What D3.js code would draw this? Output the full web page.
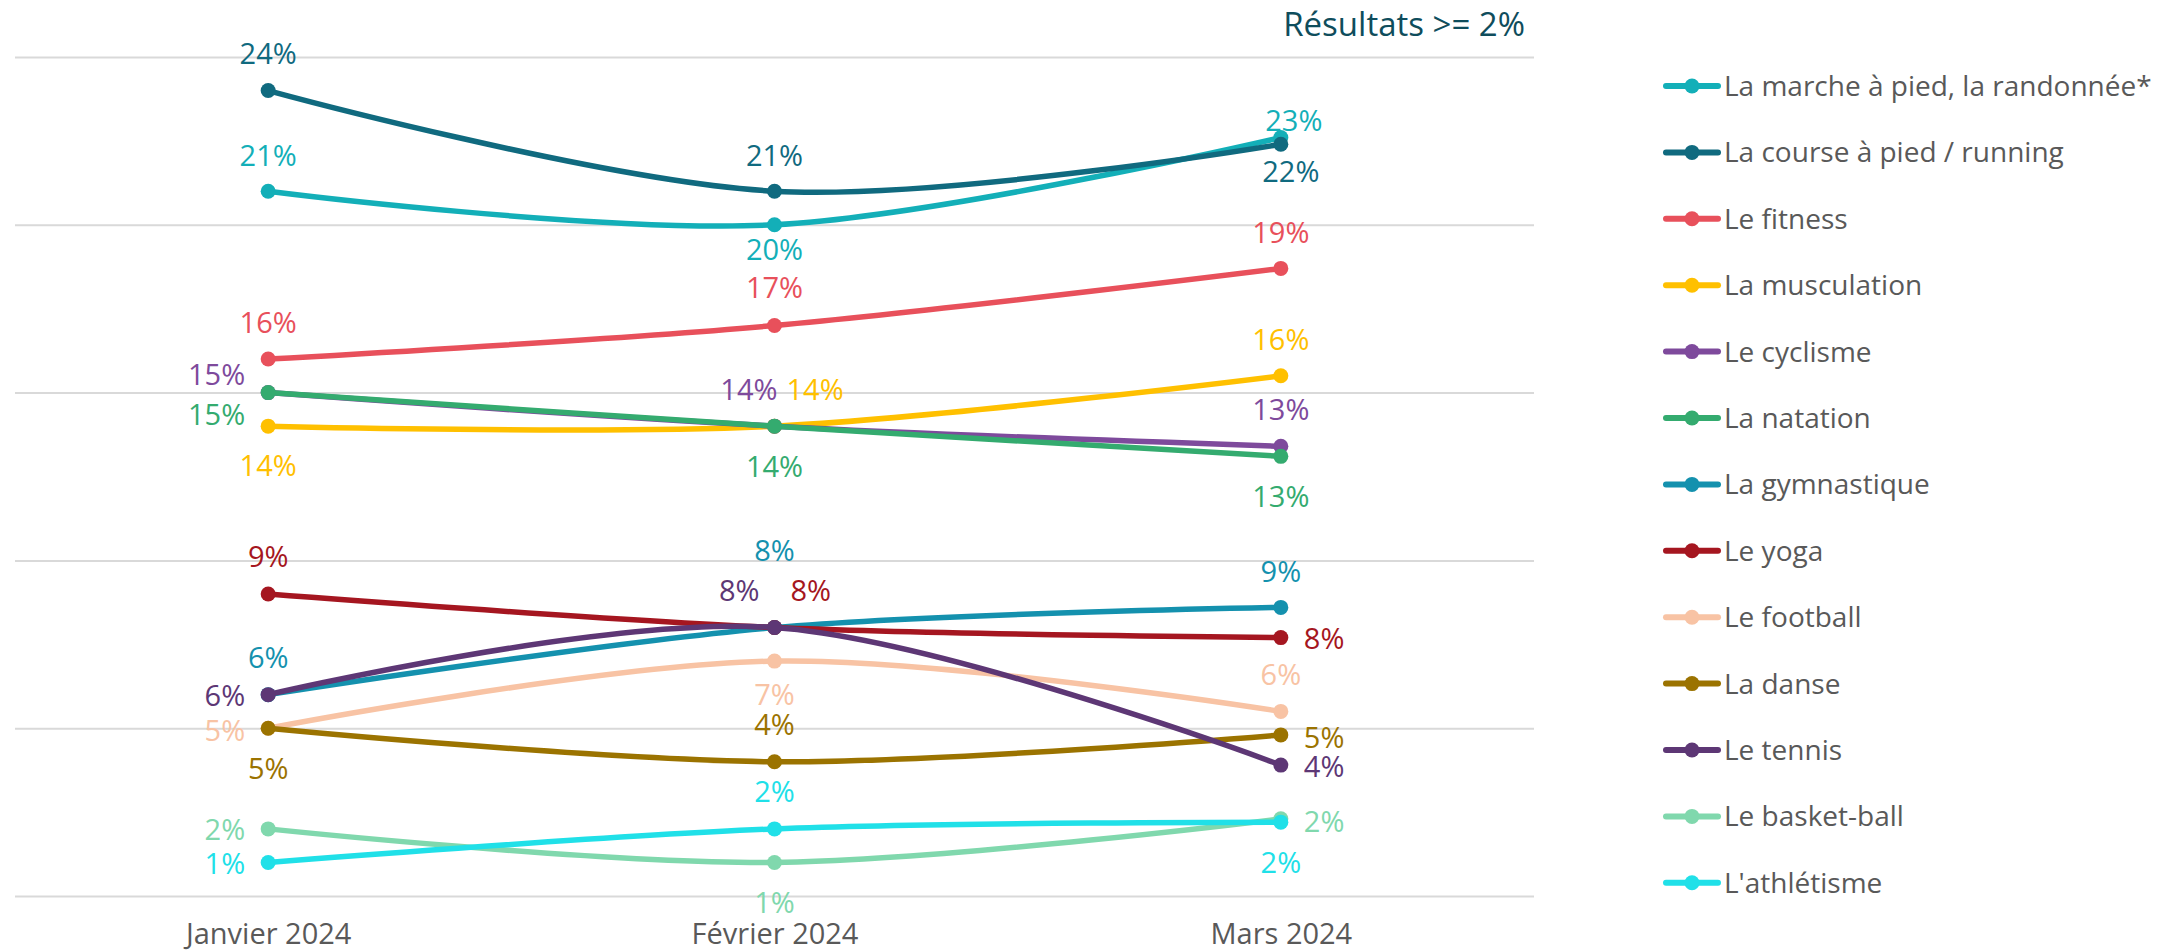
<!doctype html>
<html>
<head>
<meta charset="utf-8">
<script src="https://cdn.jsdelivr.net/npm/d3@7"></script>
<style>
  body { margin: 0; background: #fff; }
  svg { display: block; font-family: "Open Sans", sans-serif; }
</style>
</head>
<body>
<div id="chart"></div>
<script>
// x categories
var months = ["Janvier 2024", "Février 2024", "Mars 2024"];

// series names (legend order = draw order)
var sports = [
  "La marche à pied, la randonnée*",
  "La course à pied / running",
  "Le fitness",
  "La musculation",
  "Le cyclisme",
  "La natation",
  "La gymnastique",
  "Le yoga",
  "Le football",
  "La danse",
  "Le tennis",
  "Le basket-ball",
  "L'athlétisme"
];

// values in %, one per month
var marche      = [21, 20, 22.6];
var course      = [24, 21, 22.4];
var fitness     = [16, 17, 18.7];
var musculation = [14, 14, 15.5];
var cyclisme    = [15, 14, 13.4];
var natation    = [15, 14, 13.1];
var gymnastique = [6, 8, 8.6];
var yoga        = [9, 8, 7.7];
var football    = [5, 7, 5.5];
var danse       = [5, 4, 4.8];
var tennis      = [6, 8, 3.9];
var basket      = [2, 1, 2.3];
var athletisme  = [1, 2, 2.2];

var yTicks = [0, 5, 10, 15, 20, 25];

var seriesValues = [marche, course, fitness, musculation, cyclisme, natation,
  gymnastique, yoga, football, danse, tennis, basket, athletisme];

var colors = ["#13afb8", "#106a7f", "#e8505b", "#ffc000", "#7e4a9c", "#34ab6f",
  "#1491ae", "#a51620", "#f8c3a4", "#9b7300", "#5d3775", "#80d8ad", "#20e0e8"];

// where each value label sits relative to its point: [anchor, dx, dy]
var labelPlace = [
  [["middle", 0, -36], ["middle", 0, 25], ["middle", 13, -17]],
  [["middle", 0, -37], ["middle", 0, -36], ["middle", 10, 27]],
  [["middle", 0, -36], ["middle", 0, -38], ["middle", 0, -36]],
  [["middle", 0, 39], ["start", 12, -37], ["middle", 0, -36]],
  [["end", -23, -18], ["end", 3, -37], ["middle", 0, -37]],
  [["end", -23, 22], ["middle", 0, 40], ["middle", 0, 40]],
  [["middle", 0, -37], ["middle", 0, -77], ["middle", 0, -36]],
  [["middle", 0, -37], ["start", 16, -37], ["start", 23, 1]],
  [["end", -23, 2], ["middle", 0, 33], ["middle", 0, -37]],
  [["middle", 0, 40], ["middle", 0, -37], ["start", 23, 3]],
  [["end", -23, 1], ["end", -15, -37], ["start", 23, 1]],
  [["end", -23, 1], ["middle", 0, 40], ["start", 23, 3]],
  [["end", -23, 1], ["middle", 0, -37], ["middle", 0, 40]]
];

var width = 2178, height = 951;

var svg = d3.select("#chart").append("svg")
  .attr("width", width)
  .attr("height", height);

var x = d3.scalePoint().domain(months).range([15, 1534]).padding(0.5);
var y = d3.scaleLinear().domain([0, 25]).range([896, 57]);

// gridlines
svg.append("g")
  .attr("transform", "translate(15,0)")
  .call(d3.axisLeft(y).tickValues(yTicks).tickSize(-(1534 - 15)).tickFormat(""))
  .call(function(g) { g.select(".domain").remove(); })
  .selectAll("line")
    .attr("stroke", "#d9d9d9")
    .attr("stroke-width", 2);

// x axis labels
svg.append("g")
  .attr("transform", "translate(0,944)")
  .call(d3.axisBottom(x).tickSize(0).tickPadding(0))
  .call(function(g) { g.select(".domain").remove(); })
  .selectAll("text")
    .attr("y", 0)
    .attr("dy", 0)
    .attr("fill", "#595959")
    .style("font-family", "Open Sans")
    .style("font-size", "29px");

// title
svg.append("text")
  .attr("x", 1525)
  .attr("y", 36)
  .attr("text-anchor", "end")
  .attr("fill", "#0f4d5c")
  .style("font-size", "33px")
  .text("Résultats >= 2%");

var line = d3.line()
  .x(function(d, i) { return x(months[i]); })
  .y(function(d) { return y(d); })
  .curve(d3.curveCardinal.tension(0));

// lines and points
seriesValues.forEach(function(vals, s) {
  var g = svg.append("g");
  g.append("path")
    .datum(vals)
    .attr("d", line)
    .attr("fill", "none")
    .attr("stroke", colors[s])
    .attr("stroke-width", 5.5)
    .attr("stroke-linecap", "round");
  g.selectAll("circle")
    .data(vals)
    .enter().append("circle")
      .attr("cx", function(d, i) { return x(months[i]); })
      .attr("cy", function(d) { return y(d); })
      .attr("r", 7.5)
      .attr("fill", colors[s]);
});

// value labels
seriesValues.forEach(function(vals, s) {
  svg.append("g").selectAll("text")
    .data(vals)
    .enter().append("text")
      .attr("x", function(d, i) { return x(months[i]) + labelPlace[s][i][1]; })
      .attr("y", function(d, i) { return y(d) + labelPlace[s][i][2]; })
      .attr("dy", "0.36em")
      .attr("text-anchor", function(d, i) { return labelPlace[s][i][0]; })
      .attr("fill", colors[s])
      .style("font-size", "29px")
      .text(function(d) { return Math.round(d) + "%"; });
});

// legend
var legend = svg.append("g").selectAll("g")
  .data(sports)
  .enter().append("g")
    .attr("transform", function(d, i) { return "translate(0," + (86 + i * 66.4) + ")"; });

legend.append("line")
  .attr("x1", 1666).attr("x2", 1718)
  .attr("stroke", function(d, i) { return colors[i]; })
  .attr("stroke-width", 6)
  .attr("stroke-linecap", "round");
legend.append("circle")
  .attr("cx", 1692)
  .attr("r", 7.5)
  .attr("fill", function(d, i) { return colors[i]; });
legend.append("text")
  .attr("x", 1724)
  .attr("dy", "0.36em")
  .attr("fill", "#595959")
  .style("font-size", "28px")
  .text(function(d) { return d; });
</script>
</body>
</html>
